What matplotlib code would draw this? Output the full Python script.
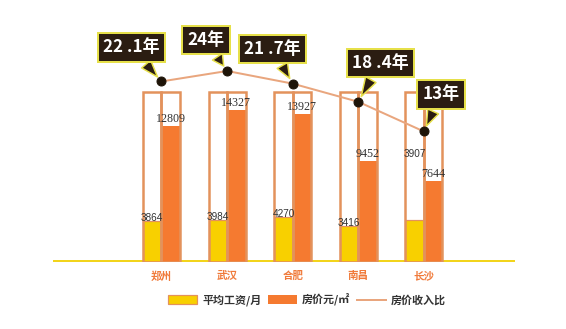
import numpy as np
import matplotlib
matplotlib.use("Agg")
import matplotlib.pyplot as plt

plt.rcParams['font.family'] = ['Noto Sans CJK SC', 'DejaVu Sans']

cities = ["郑州", "武汉", "合肥", "南昌", "长沙"]
salary = [3864, 3984, 4270, 3416, 3907]
price = [12809, 14327, 13927, 9452, 7644]
ratio = [22.1, 24, 21.7, 18.4, 13]
ratio_labels = ["22 .1年", "24年", "21 .7年", "18 .4年", "13年"]

# callout offsets (points) from each dot
callout_off = [(-30, 34), (-21, 31), (-20, 35), (22, 39), (17, 37)]
salary_lab_off = [3, 3, 3, 3, 66]

YELLOW = "#f8d000"
ORANGE = "#f57a30"
EDGE = "#e3925c"
LINE = "#e9a67e"

fig = plt.figure(figsize=(566 / 72, 329 / 72), dpi=72)
ax = fig.add_axes([53 / 566, 1 - 262 / 329, 462 / 566, 242 / 329])
x = np.arange(len(cities))
w = 0.282

ax.axhline(0, color="#f2d41c", lw=4, zorder=1)
yb = ax.bar(x - w / 2, salary, w, color=YELLOW, edgecolor=EDGE, lw=1.2, zorder=2,
            label="平均工资/月")
ob = ax.bar(x + w / 2, price, w, color=ORANGE, lw=0, zorder=2, label="房价元/㎡")
ax.bar(x - w / 2, [16000] * len(x), w, fill=False, edgecolor=EDGE, lw=2.5, zorder=3)
ax.bar(x + w / 2, [16000] * len(x), w, fill=False, edgecolor=EDGE, lw=2.5, zorder=3)

for i in range(len(x)):
    ax.annotate(str(price[i]), (x[i] + w / 2, price[i]), xytext=(0, 1),
                textcoords="offset points", ha="center", va="bottom",
                fontsize=12, family="Liberation Serif", color="#333333", zorder=5)
    ax.annotate(str(salary[i]), (x[i] - w / 2, salary[i]), xytext=(0, salary_lab_off[i]),
                textcoords="offset points", ha="center", va="center",
                fontsize=10, family="Liberation Sans", color="#333333", zorder=5)

ax.set_xlim(-1.654, 5.389)
ax.set_ylim(0, 22748)
ax.set_xticks(x)
ax.set_xticklabels(cities, fontweight="bold")
ax.tick_params(axis="x", length=0, pad=9, labelcolor="#f07a3a", labelsize=10.5)
ax.set_yticks([])
for s in ax.spines.values():
    s.set_visible(False)

ax2 = ax.twinx()
ax2.set_ylim(-10.727, 33.27)
ln, = ax2.plot(x, ratio, color=LINE, lw=2, zorder=3, label="房价收入比")
ax2.plot(x, ratio, "o", color="#1e1408", ms=9, zorder=4)
ax2.set_yticks([])
for s in ax2.spines.values():
    s.set_visible(False)

for i in range(len(x)):
    ax2.annotate(ratio_labels[i], (x[i], ratio[i]), xytext=callout_off[i],
                 textcoords="offset points", ha="center", va="center",
                 fontsize=17, fontweight="bold", color="white",
                 bbox=dict(boxstyle="square,pad=0.3", fc="#2b1d12", ec="#e6e04a", lw=2),
                 arrowprops=dict(arrowstyle="wedge,tail_width=0.7", fc="#2b1d12",
                                 ec="#e6e04a", lw=1.5, shrinkB=6),
                 zorder=6)

leg = fig.legend(handles=[yb, ob, ln], loc="center", bbox_to_anchor=(307 / 566, 1 - 300 / 329),
                 ncol=3, frameon=False, fontsize=11, handlelength=2.6, handleheight=0.9,
                 columnspacing=0.6, handletextpad=0.5)
for t in leg.get_texts():
    t.set_fontweight("bold")
    t.set_color("#333333")

fig.savefig("out.png", dpi=72)
